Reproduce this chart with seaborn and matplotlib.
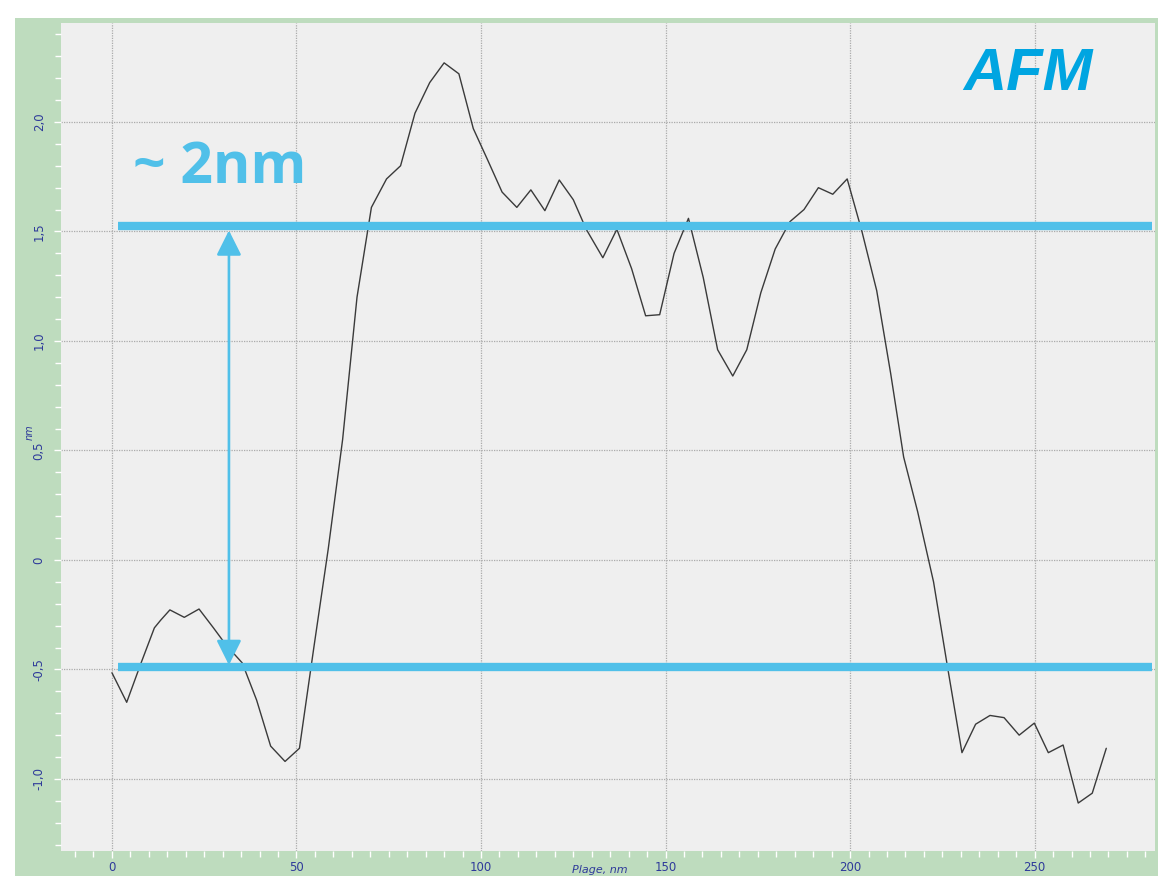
import matplotlib
matplotlib.use("Agg")
import matplotlib.pyplot as plt
import matplotlib.ticker as mticker
import seaborn as sns
import pandas as pd

# ---- data ----
position_nm = [0, 4.0, 7.9, 11.5, 13.2, 15.7, 19.6, 23.6, 27.5, 31.0, 35.3, 39.2,
               43.0, 46.9, 50.8, 54.7, 58.6, 62.5, 66.4, 70.3, 74.4, 78.2, 82.1,
               86.1, 90.0, 94.0, 97.9, 101.7, 105.7, 109.7, 113.5, 117.3, 121.2,
               125.0, 128.5, 133.0, 136.8, 140.8, 144.6, 148.4, 152.3, 156.2,
               160.2, 164.1, 168.2, 172.0, 175.8, 179.7, 183.7, 187.5, 191.4,
               195.3, 199.2, 203.2, 207.2, 211.0, 214.5, 218.3, 222.6, 226.4,
               230.3, 234.0, 237.9, 241.7, 245.8, 249.9, 253.7, 257.7, 261.8,
               265.6, 269.4]
height_nm = [-0.515, -0.65, -0.47, -0.31, -0.275, -0.228, -0.262, -0.224, -0.31,
             -0.39, -0.47, -0.64, -0.85, -0.92, -0.86, -0.40, 0.05, 0.55, 1.20,
             1.61, 1.74, 1.80, 2.04, 2.18, 2.27, 2.22, 1.97, 1.83, 1.68, 1.61,
             1.69, 1.595, 1.735, 1.645, 1.51, 1.38, 1.51, 1.33, 1.115, 1.12,
             1.40, 1.56, 1.29, 0.96, 0.84, 0.96, 1.22, 1.42, 1.545, 1.60, 1.70,
             1.67, 1.74, 1.50, 1.23, 0.85, 0.47, 0.22, -0.10, -0.49, -0.88,
             -0.75, -0.71, -0.72, -0.80, -0.745, -0.88, -0.845, -1.11, -1.065,
             -0.86]
level_lines = [1.525, -0.49]          # the two marked levels (nm)
x_ticks = [0, 50, 100, 150, 200, 250]
y_ticks = [-1.0, -0.5, 0.0, 0.5, 1.0, 1.5, 2.0]
step_label = "~ 2nm"
title_label = "AFM"
x_label = "Plage, nm"
y_label = "nm"

df = pd.DataFrame({"pos": position_nm, "h": height_nm})

sns.set_theme(style="ticks")
plt.rcParams["font.family"] = ["DejaVu Sans"]

BLUE = "#50C0E9"
AFM_BLUE = "#00A5E1"
GREEN = "#BEDCBE"
NAVY = "#2E3A9A"

fig = plt.figure(figsize=(11.58, 8.76), dpi=100)
fig.patch.set_facecolor("white")

# green instrument panel behind the plot
bg = fig.add_axes([15 / 1158, 0, 1 - 15 / 1158, (876 - 18) / 876], zorder=-5)
bg.set_facecolor(GREEN)
bg.set_xticks([])
bg.set_yticks([])
for s in bg.spines.values():
    s.set_visible(False)

ax = fig.add_axes([61 / 1158, 25 / 876, (1155 - 61) / 1158, (851 - 23) / 876],
                  zorder=1)
ax.set_facecolor("#EFEFEF")
for s in ax.spines.values():
    s.set_visible(False)

sns.lineplot(data=df, x="pos", y="h", ax=ax, color="#3A3A3A", lw=1.0,
             sort=False, zorder=3)

ax.set_xlim(-13.8, 282.6)
ax.set_ylim(-1.329, 2.452)

ax.set_xticks(x_ticks)
ax.set_yticks(y_ticks)
ax.xaxis.set_minor_locator(mticker.MultipleLocator(5))
ax.yaxis.set_minor_locator(mticker.MultipleLocator(0.1))


def fmt(v, pos=None):
    if abs(v) < 1e-9:
        return "0"
    return f"{v:.1f}".replace(".", ",")


ax.yaxis.set_major_formatter(mticker.FuncFormatter(fmt))
ax.grid(True, which="major", color="#ABABAB", linestyle=(0, (1, 1)), lw=0.9)
ax.tick_params(which="both", direction="out", color="white", width=1)
ax.tick_params(which="major", length=5)
ax.tick_params(which="minor", length=4)
ax.tick_params(axis="x", which="major", labelsize=8.5, labelcolor=NAVY, pad=2)
ax.tick_params(axis="y", which="major", labelsize=8.5, labelcolor=NAVY, pad=6,
               labelrotation=90)
for lab in ax.get_yticklabels():
    lab.set_va("center")
ax.set_xlabel("")
ax.set_ylabel("")

fig.text(30 / 1158, 1 - 432 / 876, y_label, rotation=90, fontsize=7,
         style="italic", color=NAVY, ha="center", va="center")
fig.text(600 / 1158, 1 / 876, x_label, fontsize=8, style="italic",
         color=NAVY, ha="center", va="bottom")

# level lines
for lv in level_lines:
    ax.plot([1.6, 281.8], [lv, lv], color=BLUE, lw=6, solid_capstyle="butt",
            zorder=4)

# double arrow between levels
ax.annotate("", xy=(31.7, level_lines[0] - 0.02), xytext=(31.7, level_lines[1] + 0.01),
            arrowprops=dict(arrowstyle="<|-|>,head_length=0.4,head_width=0.2",
                            color=BLUE, lw=1.9, mutation_scale=38,
                            shrinkA=0, shrinkB=0), zorder=5)

ax.text(5.7, 1.72, step_label, fontsize=41, fontweight="bold", color=BLUE,
        family=["Open Sans", "DejaVu Sans"], ha="left", va="baseline", zorder=6)
ax.text(230.6, 2.146, title_label, fontsize=43, fontweight="bold",
        style="italic", color=AFM_BLUE, family=["Liberation Sans", "DejaVu Sans"],
        ha="left", va="baseline", zorder=6)

fig.savefig("out.png", dpi=100, facecolor="white")
